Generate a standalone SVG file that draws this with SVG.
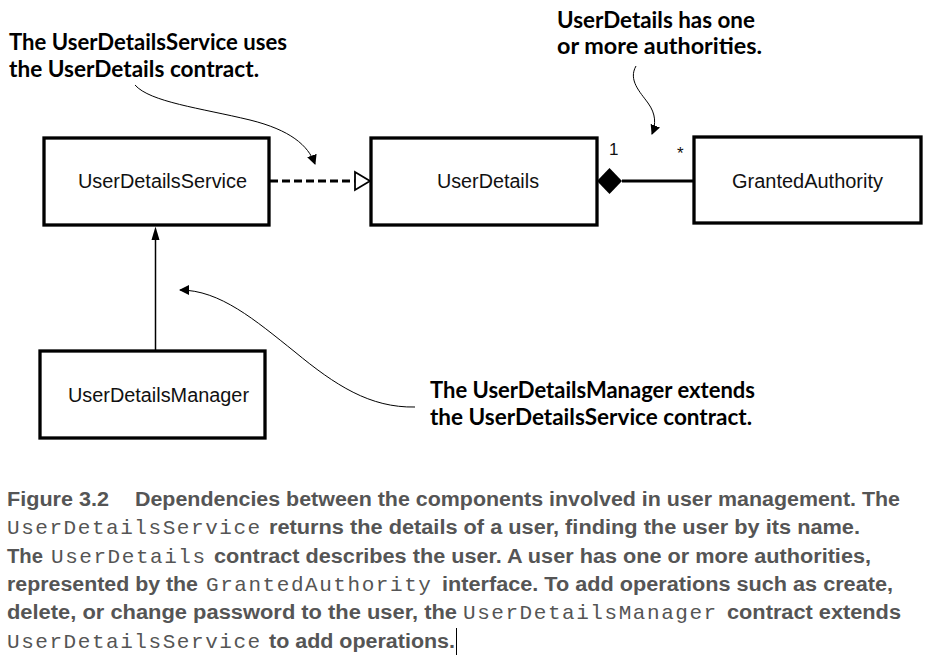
<svg xmlns="http://www.w3.org/2000/svg" width="928" height="660" viewBox="0 0 928 660">
<style>
.box{fill:#fff;stroke:#000;stroke-width:3.3}
.lbl{font-family:"Liberation Sans",Arial,sans-serif;font-size:20px;fill:#111}
.mult{font-family:"Liberation Sans",Arial,sans-serif;font-size:17px;fill:#111}
.note{font-family:Lato,"Open Sans",sans-serif;font-weight:700;font-size:22px;fill:#000}
.cap{font-family:"Liberation Sans",Arial,sans-serif;font-weight:700;font-size:20px;fill:#555}
.mono{font-family:"Liberation Mono","Courier New",monospace;font-size:21px;fill:#555;letter-spacing:1.55px}
.curve{fill:none;stroke:#000;stroke-width:1}
</style>
<defs>
<marker id="ah" viewBox="0 0 10 10" refX="9" refY="5" markerWidth="10" markerHeight="10" markerUnits="userSpaceOnUse" orient="auto">
<path d="M0,0 L10,5 L0,10 z" fill="#000"/>
</marker>
</defs>
<g id="connectors">
<line x1="270" y1="181" x2="355" y2="181" stroke="#000" stroke-width="3" stroke-dasharray="8,4"/>
<path d="M355,172 L370,181 L355,190 z" fill="#fff" stroke="#000" stroke-width="1.8"/>
<line x1="622" y1="181" x2="694" y2="181" stroke="#000" stroke-width="3"/>
<path d="M597,181 L609.5,168 L622,181 L609.5,194 z" fill="#000"/>
<line x1="155.5" y1="351" x2="155.5" y2="238" stroke="#000" stroke-width="1.5"/>
<path d="M151.5,240 L155.5,226.5 L159.5,240 z" fill="#000"/>
<path class="curve" d="M135,85 C150,102 200,108 250,120 C290,130 308,145 315,164" marker-end="url(#ah)"/>
<path class="curve" d="M636,66 C628,80 640,92 648,103 C656,114 656,124 652,134" marker-end="url(#ah)"/>
<path class="curve" d="M415,407 C370,408 335,385 295,352 C255,320 220,290 180,290" marker-end="url(#ah)"/>
</g>
<g id="UserDetailsService">
<rect class="box" x="44" y="138" width="225" height="87"/>
<text class="lbl" x="78" y="188" textLength="169" lengthAdjust="spacingAndGlyphs">UserDetailsService</text>
</g>
<g id="UserDetails">
<rect class="box" x="371" y="138" width="226" height="87"/>
<text class="lbl" x="437" y="188" textLength="102" lengthAdjust="spacingAndGlyphs">UserDetails</text>
</g>
<g id="GrantedAuthority">
<rect class="box" x="694" y="137" width="227" height="86"/>
<text class="lbl" x="732" y="188" textLength="151" lengthAdjust="spacingAndGlyphs">GrantedAuthority</text>
</g>
<g id="UserDetailsManager">
<rect class="box" x="40" y="351" width="225" height="87"/>
<text class="lbl" x="68" y="402" textLength="181" lengthAdjust="spacingAndGlyphs">UserDetailsManager</text>
</g>
<g id="multiplicities">
<text class="mult" x="609" y="155">1</text>
<text class="mult" x="677" y="159">*</text>
</g>
<g id="notes">
<text class="note" x="9" y="50" textLength="278" lengthAdjust="spacingAndGlyphs">The UserDetailsService uses</text>
<text class="note" x="9" y="77" textLength="250" lengthAdjust="spacingAndGlyphs">the UserDetails contract.</text>
<text class="note" x="557" y="28" textLength="198" lengthAdjust="spacingAndGlyphs">UserDetails has one</text>
<text class="note" x="557" y="54" textLength="205" lengthAdjust="spacingAndGlyphs">or more authorities.</text>
<text class="note" x="430" y="398" textLength="325" lengthAdjust="spacingAndGlyphs">The UserDetailsManager extends</text>
<text class="note" x="430" y="425" textLength="322" lengthAdjust="spacingAndGlyphs">the UserDetailsService contract.</text>
</g>
<g id="caption">
<text class="cap" x="7" y="506" textLength="102" lengthAdjust="spacingAndGlyphs">Figure 3.2</text>
<text class="cap" x="135" y="506" textLength="765" lengthAdjust="spacingAndGlyphs">Dependencies between the components involved in user management. The</text>
<text class="mono" x="7" y="534">UserDetailsService</text>
<text class="cap" x="269" y="534" textLength="591" lengthAdjust="spacingAndGlyphs">returns the details of a user, finding the user by its name.</text>
<text class="cap" x="7" y="563" textLength="36" lengthAdjust="spacingAndGlyphs">The</text>
<text class="mono" x="51" y="563">UserDetails</text>
<text class="cap" x="214" y="563" textLength="657" lengthAdjust="spacingAndGlyphs">contract describes the user. A user has one or more authorities,</text>
<text class="cap" x="7" y="591" textLength="191" lengthAdjust="spacingAndGlyphs">represented by the</text>
<text class="mono" x="206" y="591">GrantedAuthority</text>
<text class="cap" x="442" y="591" textLength="451" lengthAdjust="spacingAndGlyphs">interface. To add operations such as create,</text>
<text class="cap" x="7" y="619" textLength="450" lengthAdjust="spacingAndGlyphs">delete, or change password to the user, the</text>
<text class="mono" x="463" y="619">UserDetailsManager</text>
<text class="cap" x="727" y="619" textLength="174" lengthAdjust="spacingAndGlyphs">contract extends</text>
<text class="mono" x="7" y="648">UserDetailsService</text>
<text class="cap" x="269" y="648" textLength="186" lengthAdjust="spacingAndGlyphs">to add operations.</text>
<line x1="456.5" y1="628" x2="456.5" y2="655" stroke="#000" stroke-width="1"/>
</g>
</svg>
